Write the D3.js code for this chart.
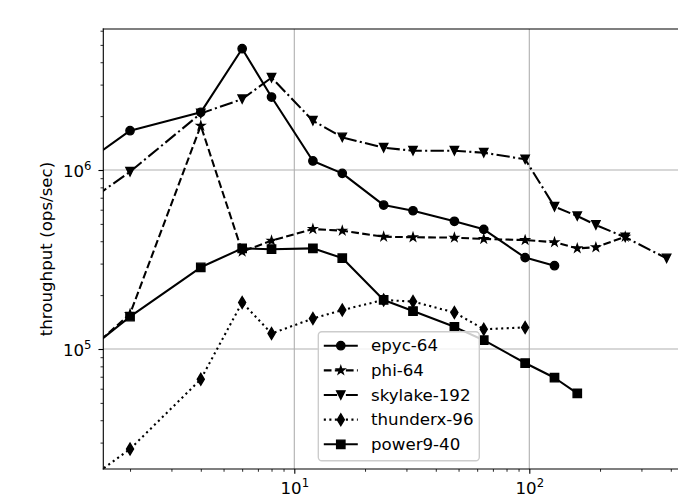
<!DOCTYPE html>
<html>
<head>
<meta charset="utf-8">
<script src="https://cdn.jsdelivr.net/npm/d3@7"></script>
<style>
  body { margin: 0; background: #fff; }
  text { font-family: "DejaVu Sans", sans-serif; fill: #000; }
</style>
</head>
<body>
<div id="chart"></div>
<script>
// values (threads vs ops/sec)
var epycX = [1, 2, 4, 6, 8, 12, 16, 24, 32, 48, 64, 96, 128];
var epycY = [868000, 1658000, 2100000, 4760000, 2557000, 1123000, 958000, 637000, 592000, 517000, 466000, 324000, 292000];

var phiX = [1, 2, 4, 6, 8, 12, 16, 24, 32, 48, 64, 96, 128, 160, 192, 256];
var phiY = [70000, 157000, 1768000, 350000, 403000, 468000, 458000, 424000, 421000, 419000, 412000, 406000, 395000, 365000, 370000, 424000];

var skylakeX = [1, 2, 4, 6, 8, 12, 16, 24, 32, 48, 64, 96, 128, 160, 192, 256, 384];
var skylakeY = [513000, 978000, 2070000, 2490000, 3280000, 1886000, 1523000, 1332000, 1282000, 1282000, 1249000, 1148000, 624000, 553000, 493000, 421000, 321000];

var thunderX = [1, 2, 4, 6, 8, 12, 16, 24, 32, 48, 64, 96];
var thunderY = [14200, 27600, 67700, 182000, 122000, 148000, 165000, 188000, 184000, 160000, 129000, 132000];

var powerX = [1, 2, 4, 6, 8, 12, 16, 24, 32, 48, 64, 96, 128, 160];
var powerY = [73500, 151500, 286000, 365000, 361000, 365000, 322000, 188000, 163000, 133000, 112000, 83500, 69100, 56500];

var seriesNames = ["epyc-64", "phi-64", "skylake-192", "thunderx-96", "power9-40"];
var xMajor = [10, 100];
var xMinor = [2, 3, 4, 5, 6, 7, 8, 9, 20, 30, 40, 50, 60, 70, 80, 90, 200, 300, 400];
var yMajor = [1e5, 1e6];
var yMinor = [3e4, 4e4, 5e4, 6e4, 7e4, 8e4, 9e4, 2e5, 3e5, 4e5, 5e5, 6e5, 7e5, 8e5, 9e5, 2e6, 3e6, 4e6, 5e6, 6e6];

var W = 678, H = 504;
var pL = 103.3, pT = 29, pB = 469, pR = 678;
var pt = 100 / 72;

var svg = d3.select("#chart").append("svg")
    .attr("width", W)
    .attr("height", H);

var x = d3.scaleLog().domain([1.539, 429.3]).range([pL, pR]);
var y = d3.scaleLog().domain([21360, 6.134e6]).range([pB, pT]);

svg.append("defs").append("clipPath").attr("id", "plotclip")
  .append("rect").attr("x", pL).attr("y", pT)
  .attr("width", pR - pL).attr("height", pB - pT);

// grid
var grid = svg.append("g");
grid.selectAll(".gx").data(xMajor).enter().append("line")
    .attr("x1", function(d) { return x(d); }).attr("x2", function(d) { return x(d); })
    .attr("y1", pT).attr("y2", pB)
    .style("stroke", "#b0b0b0").style("stroke-width", 0.8 * pt);
grid.selectAll(".gy").data(yMajor).enter().append("line")
    .attr("x1", pL).attr("x2", pR)
    .attr("y1", function(d) { return y(d); }).attr("y2", function(d) { return y(d); })
    .style("stroke", "#b0b0b0").style("stroke-width", 0.8 * pt);

// marker shapes, size in px
var ms = 6 * pt;
function markerPath(kind) {
  var s = ms, h = s / 2;
  if (kind == "circle") {
    return "M" + h + ",0A" + h + "," + h + " 0 1,1 " + (-h) + ",0A" + h + "," + h + " 0 1,1 " + h + ",0Z";
  }
  if (kind == "square") {
    return "M" + (-h) + "," + (-h) + "H" + h + "V" + h + "H" + (-h) + "Z";
  }
  if (kind == "tri") {
    return "M0," + h + "L" + (-h) + "," + (-h) + "L" + h + "," + (-h) + "Z";
  }
  if (kind == "diamond") {
    var dh = s * 0.7071, dw = s * 0.7071 * 0.6;
    return "M0," + (-dh) + "L" + dw + ",0L0," + dh + "L" + (-dw) + ",0Z";
  }
  // star
  var p = "";
  for (var i = 0; i < 10; i++) {
    var r = (i % 2 == 0) ? h : h * 0.381966;
    var a = -Math.PI / 2 + i * Math.PI / 5;
    p += (i == 0 ? "M" : "L") + (r * Math.cos(a)).toFixed(2) + "," + (r * Math.sin(a)).toFixed(2);
  }
  return p + "Z";
}

var lw = 1.5 * pt;
var styles = [
  {xs: epycX, ys: epycY, marker: "circle", dash: null},
  {xs: phiX, ys: phiY, marker: "star", dash: [3.7 * lw, 1.6 * lw]},
  {xs: skylakeX, ys: skylakeY, marker: "tri", dash: [6.4 * lw, 1.6 * lw, 1 * lw, 1.6 * lw]},
  {xs: thunderX, ys: thunderY, marker: "diamond", dash: [1 * lw, 1.65 * lw]},
  {xs: powerX, ys: powerY, marker: "square", dash: null}
];

var line = d3.line()
    .x(function(d) { return x(d[0]); })
    .y(function(d) { return y(d[1]); });

var plot = svg.append("g").attr("clip-path", "url(#plotclip)");

styles.forEach(function(s) {
  var pts = s.xs.map(function(v, i) { return [v, s.ys[i]]; });
  plot.append("path")
      .datum(pts)
      .attr("d", line)
      .style("fill", "none")
      .style("stroke", "#000")
      .style("stroke-width", lw)
      .style("stroke-linejoin", "round")
      .style("stroke-dasharray", s.dash ? s.dash.join(",") : null);
  plot.append("g").selectAll("path")
      .data(pts)
      .enter()
      .append("path")
      .attr("d", markerPath(s.marker))
      .attr("transform", function(d) { return "translate(" + x(d[0]) + "," + y(d[1]) + ")"; })
      .style("fill", "#000")
      .style("stroke", "#000")
      .style("stroke-width", 1 * pt);
});

// axes (ticks only)
function styleAxis(g, w) {
  g.select(".domain").remove();
  g.selectAll(".tick line").style("stroke", "#000").style("stroke-width", w);
}
svg.append("g").attr("transform", "translate(0," + pB + ")")
    .call(d3.axisBottom(x).tickValues(xMinor).tickSize(2 * pt).tickFormat(""))
    .call(styleAxis, 0.6 * pt);
svg.append("g").attr("transform", "translate(0," + pB + ")")
    .call(d3.axisBottom(x).tickValues(xMajor).tickSize(3.5 * pt).tickFormat(""))
    .call(styleAxis, 0.8 * pt);
svg.append("g").attr("transform", "translate(" + pL + ",0)")
    .call(d3.axisLeft(y).tickValues(yMinor).tickSize(2 * pt).tickFormat(""))
    .call(styleAxis, 0.6 * pt);
svg.append("g").attr("transform", "translate(" + pL + ",0)")
    .call(d3.axisLeft(y).tickValues(yMajor).tickSize(3.5 * pt).tickFormat(""))
    .call(styleAxis, 0.8 * pt);

// tick labels as 10^n
var tickFont = 12 * pt;
xMajor.forEach(function(v) {
  var t = svg.append("text")
      .attr("x", x(v) + 0.5).attr("y", 493.7)
      .attr("text-anchor", "middle")
      .style("font-size", tickFont + "px");
  t.append("tspan").text("10");
  t.append("tspan").attr("dy", -6.7).style("font-size", (tickFont * 0.7) + "px").text(Math.round(Math.log10(v)));
});
yMajor.forEach(function(v) {
  var t = svg.append("text")
      .attr("x", 91.5).attr("y", y(v) + 6.7)
      .attr("text-anchor", "end")
      .style("font-size", tickFont + "px");
  t.append("tspan").text("10");
  t.append("tspan").attr("dy", -6.7).style("font-size", (tickFont * 0.7) + "px").text(Math.round(Math.log10(v)));
});

// spines
var sw = 0.8 * pt;
svg.append("line").attr("x1", pL).attr("x2", pL).attr("y1", pT).attr("y2", pB)
    .style("stroke", "#000").style("stroke-width", sw).style("stroke-linecap", "square");
svg.append("line").attr("x1", pL).attr("x2", pR).attr("y1", pT).attr("y2", pT)
    .style("stroke", "#000").style("stroke-width", sw).style("stroke-linecap", "square");
svg.append("line").attr("x1", pL).attr("x2", pR).attr("y1", pB).attr("y2", pB)
    .style("stroke", "#000").style("stroke-width", sw).style("stroke-linecap", "square");

// y label
svg.append("text")
    .attr("transform", "translate(51.5," + ((pT + pB) / 2) + ") rotate(-90)")
    .attr("text-anchor", "middle")
    .style("font-size", (12 * pt) + "px")
    .text("throughput (ops/sec)");

// legend
var lg = svg.append("g");
lg.append("rect")
    .attr("x", 318.3).attr("y", 331.7)
    .attr("width", 479.3 - 318.3).attr("height", 460.7 - 331.7)
    .attr("rx", 3.5).attr("ry", 3.5)
    .style("fill", "#fff").style("fill-opacity", 0.8)
    .style("stroke", "#cccccc").style("stroke-width", 1 * pt);

styles.forEach(function(s, i) {
  var ry = 345.7 + i * 24.65;
  lg.append("line")
      .attr("x1", 323.8).attr("x2", 357.8).attr("y1", ry).attr("y2", ry)
      .style("stroke", "#000").style("stroke-width", lw)
      .style("stroke-dasharray", s.dash ? s.dash.join(",") : null);
  lg.append("path")
      .attr("d", markerPath(s.marker))
      .attr("transform", "translate(340.8," + ry + ")")
      .style("fill", "#000").style("stroke", "#000").style("stroke-width", 1 * pt);
  lg.append("text")
      .attr("x", 371).attr("y", ry + 5.5)
      .style("font-size", (12 * pt) + "px")
      .text(seriesNames[i]);
});
</script>
</body>
</html>
